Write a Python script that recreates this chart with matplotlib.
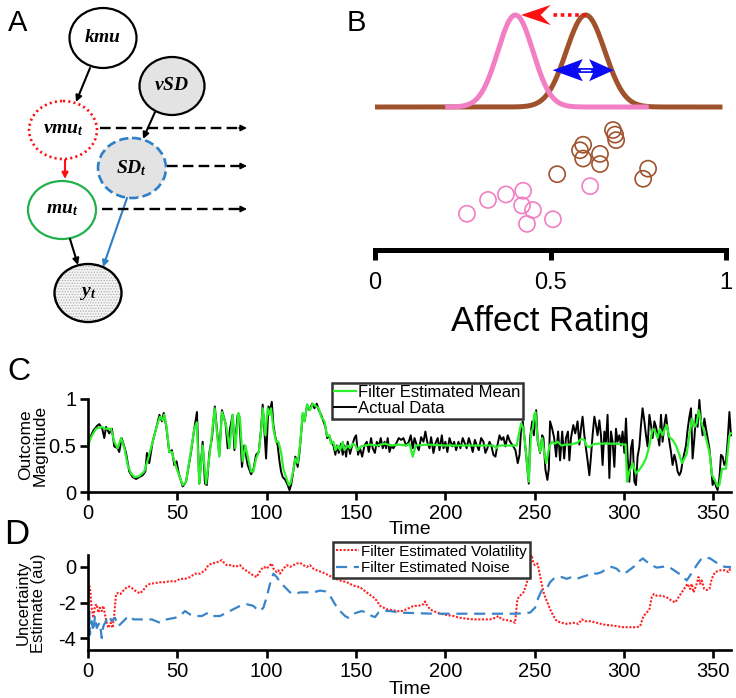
import numpy as np
import matplotlib
matplotlib.use('Agg')
import matplotlib.pyplot as plt
from matplotlib.patches import Ellipse, FancyArrowPatch, Polygon
from matplotlib.lines import Line2D

plt.rcParams['font.family'] = ['Liberation Sans', 'DejaVu Sans']
plt.rcParams['axes.unicode_minus'] = False
plt.rcParams['mathtext.fontset'] = 'custom'
plt.rcParams['mathtext.it'] = 'Liberation Serif:bold:italic'
plt.rcParams['mathtext.rm'] = 'Liberation Serif:bold'
plt.rcParams['hatch.linewidth'] = 0.6

# ---------------- data ----------------
# Panel B: schematic affect distributions and ratings
dist_means = [0.40, 0.60]          # pink (new), brown (old)
dist_sds = [0.05, 0.055]
dist_ranges = [(0.20, 0.78), (0.0, 0.99)]
pink_ratings = [0.262, 0.322, 0.373, 0.422, 0.419, 0.450, 0.433, 0.507, 0.613]
pink_rows = [-1.16, -1.01, -0.95, -0.91, -1.07, -1.12, -1.27, -1.22, -0.86]
brown_ratings = [0.678, 0.684, 0.687, 0.593, 0.584, 0.593, 0.641, 0.641, 0.519, 0.778, 0.764]
brown_rows = [-0.25, -0.30, -0.36, -0.41, -0.47, -0.56, -0.51, -0.62, -0.73, -0.67, -0.78]

# Panel C: outcome magnitude
actual_data = [(0,0.50),(1,0.58),(3,0.66),(5,0.71),(6.3,0.73),(8,0.68),(9.1,0.58),(10.1,0.70),(11.9,0.63),
 (13.4,0.68),(14.7,0.49),(16.6,0.47),(17.5,0.43),(18.8,0.58),(20.3,0.49),(21.3,0.42),(23.1,0.22),(25,0.16),
 (26.9,0.14),(28.7,0.16),(30.6,0.18),(32.1,0.22),(33,0.42),(34.3,0.31),(36.2,0.54),(38.1,0.68),(40,0.83),
 (41.4,0.76),(42.4,0.85),(43.7,0.72),(45.5,0.43),(47,0.45),(48.3,0.29),(49.6,0.33),(50.8,0.20),(53,0.06),
 (54.9,0.11),(57.7,0.43),(59.5,0.68),(61,0.86),(62.3,0.09),(64.2,0.54),(65.5,0.09),(66.5,0.075),(68,0.43),
 (69.4,0.58),(71,0.92),(73.5,0.40),(75,0.88),(77,0.74),(78.2,0.47),(79.5,0.68),(81,0.83),(82,0.45),
 (83.8,0.83),(84.7,0.81),(86.2,0.27),(87.5,0.50),(89.4,0.29),(91.3,0.19),(92.6,0.24),(94.1,0.40),(95.6,0.43),
 (96.9,0.68),(97.8,0.94),(98.8,0.65),(99.7,0.36),(101,0.92),(102,0.88),(102.9,0.97),(103.8,0.72),(104.9,0.59),
 (106.2,0.50),(107.2,0.33),(108.1,0.22),(109,0.16),(110.5,0.13),(111.8,0.075),(112.8,0.02),(113.7,0.075),
 (114.6,0.18),(116.1,0.38),(117.4,0.27),(118.4,0.42),(120.2,0.83),(121.2,0.76),(122.7,0.94),(124,0.88),
 (125.5,0.95),(126.8,0.90),(128.1,0.95),(129.2,0.88),(130.5,0.83),(131.8,0.76),(132.9,0.70),(133.9,0.58),
 (135.2,0.60),(136.1,0.54),(137.4,0.50),(138.5,0.40),(139.3,0.50),(140.4,0.42),(141.7,0.52),(142.6,0.40),
 (143.6,0.50),(144.5,0.38),(145.4,0.54),(146.7,0.41),(147.9,0.50),(149.2,0.58),(150.1,0.61),(151.2,0.40),
 (152.3,0.47),(153.5,0.38),(154.8,0.50),(156.1,0.54),(157.2,0.43),(158.5,0.58),(159.4,0.47),(160.6,0.42),
 (161.7,0.54),(162.8,0.49),(163.9,0.58),(165,0.47),(166,0.54),(166.9,0.47),(167.8,0.58),(168.8,0.43),
 (169.9,0.50),(171,0.47),(172.5,0.52),(174,0.58),(175.3,0.56),(176.6,0.58),(178.1,0.50),(179.6,0.54),
 (180.7,0.61),(181.8,0.47),(182.8,0.58),(184.1,0.50),(185.2,0.45),(186.5,0.59),(187.8,0.54),(188.9,0.65),
 (189.9,0.54),(191.2,0.47),(192.1,0.59),(193.4,0.42),(194.5,0.52),(195.8,0.58),(196.8,0.45),(198.1,0.61),
 (199,0.47),(200.1,0.54),(201.2,0.43),(202.4,0.58),(203.9,0.49),(205,0.54),(206.1,0.45),(207.4,0.54),
 (208.5,0.47),(209.8,0.58),(211,0.52),(212,0.47),(213.2,0.58),(214.5,0.50),(215.4,0.43),(216.6,0.56),
 (217.7,0.50),(218.8,0.45),(220.1,0.58),(221.4,0.54),(222.5,0.42),(223.6,0.47),(224.8,0.54),(225.9,0.49),
 (227,0.40),(228.1,0.38),(229.2,0.50),(230.4,0.61),(231.5,0.56),(232.6,0.59),(233.7,0.49),(235,0.61),
 (236.3,0.54),(237.8,0.50),(239.3,0.45),(240.6,0.31),(241.6,0.40),(242.5,0.68),(243.4,0.76),(244.6,0.54),
 (245.7,0.31),(246.8,0.09),(247.5,0.58),(248.7,0.76),(249.6,0.61),(250.9,0.88),(251.8,0.54),(253.1,0.42),
 (254.3,0.61),(255,0.58),(256.1,0.24),(257.2,0.13),(258,0.25),(258.7,0.76),(259.9,0.68),(261,0.58),
 (262.1,0.38),(263.2,0.65),(264.3,0.34),(265.5,0.65),(266.6,0.36),(267.6,0.58),(268.7,0.65),(269.5,0.34),
 (270.4,0.58),(271.7,0.72),(272.8,0.63),(274.1,0.76),(275.1,0.51),(276,0.68),(276.9,0.81),(277.9,0.61),
 (278.8,0.47),(279.7,0.34),(280.7,0.18),(281.6,0.38),(282.5,0.61),(283.5,0.81),(284.4,0.72),(285.3,0.61),
 (286.3,0.77),(287.2,0.61),(288.1,0.29),(289.1,0.65),(290,0.54),(290.9,0.83),(291.9,0.15),(292.8,0.65),
 (293.7,0.54),(294.7,0.27),(295.6,0.68),(296.5,0.54),(297.5,0.61),(298.4,0.50),(299.3,0.65),(300.3,0.42),
 (301.2,0.79),(302.1,0.38),(303.1,0.11),(304,0.47),(304.9,0.56),(305.9,0.11),(306.8,0.075),(307.7,0.38),
 (308.7,0.49),(309.6,0.72),(310.5,0.90),(311.5,0.76),(312.4,0.61),(313.3,0.49),(314.3,0.83),(315.2,0.72),
 (316.1,0.58),(317.1,0.76),(318,0.70),(318.9,0.61),(319.9,0.50),(320.8,0.83),(321.7,0.54),(322.7,0.72),
 (323.6,0.83),(324.5,0.68),(325.5,0.54),(326.4,0.43),(327.3,0.29),(328.3,0.40),(329.2,0.33),(330.1,0.22),
 (331.1,0.18),(332,0.22),(332.9,0.33),(333.9,0.42),(334.8,0.50),(335.7,0.67),(336.7,0.81),(337.6,0.90),
 (338.5,0.36),(339.5,0.58),(340.4,0.83),(341.3,0.70),(342.3,0.99),(343.2,0.76),(344.1,0.61),(345.1,0.79),
 (346,0.68),(346.9,0.58),(347.9,0.47),(348.8,0.29),(349.7,0.075),(350.7,0.13),(351.6,0.06),(352.5,0.02),
 (353.5,0.15),(354.4,0.40),(355.3,0.38),(356.3,0.29),(357.2,0.33),(358.1,0.54),(359.1,0.86),(360,0.61)]

filter_mean = [(0,0.50),(2,0.60),(4.5,0.68),(7.3,0.70),(10.1,0.68),(12.9,0.68),(14.7,0.54),(16.6,0.47),
 (18.5,0.58),(20.4,0.47),(22.2,0.29),(24.1,0.20),(26,0.16),(28.7,0.17),(31.5,0.22),(33.4,0.34),(36.2,0.54),
 (39,0.74),(40.3,0.81),(41.8,0.77),(42.7,0.83),(44,0.70),(45.5,0.43),(47,0.43),(48.3,0.33),(50.2,0.22),
 (53,0.075),(54.9,0.11),(57.7,0.45),(59.5,0.68),(60.9,0.75),(62.3,0.09),(64.2,0.50),(66.1,0.09),(68.3,0.43),
 (70.9,0.90),(73.5,0.38),(75,0.86),(77.3,0.72),(79.2,0.47),(81,0.83),(82.5,0.47),(84.2,0.85),(85.1,0.79),
 (86.6,0.33),(88.1,0.50),(90,0.33),(91.3,0.22),(92.6,0.22),(94.1,0.36),(95.6,0.43),(96.9,0.65),(97.8,0.90),
 (99.3,0.61),(100.6,0.90),(101.6,0.83),(102.5,0.90),(103.8,0.68),(105.3,0.54),(106.6,0.54),(108.1,0.43),
 (109.4,0.25),(110.9,0.16),(112.4,0.075),(113.3,0.09),(114.6,0.20),(116.1,0.36),(117.4,0.31),(118.9,0.54),
 (120.2,0.85),(121.2,0.76),(122.7,0.94),(124.3,0.88),(125.8,0.95),(127.7,0.92),(129.2,0.90),(130.5,0.81),
 (132.4,0.76),(133.9,0.60),(135.2,0.61),(136.1,0.52),(137.4,0.54),(138.5,0.45),(139.8,0.50),(141.1,0.45),
 (142.6,0.54),(143.6,0.45),(145.4,0.50),(146.7,0.47),(148.2,0.52),(149.7,0.50),(151,0.45),(152.9,0.49),
 (154.8,0.50),(158,0.51),(162,0.50),(166,0.52),(170,0.50),(174,0.51),(178.1,0.50),(180,0.52),(181.8,0.38),
 (183.5,0.50),(190,0.51),(200,0.50),(210,0.50),(220,0.50),(227,0.50),(228.5,0.47),(230,0.50),(240,0.50),
 (240.6,0.56),(242.5,0.74),(243.8,0.68),(245.3,0.41),(246.8,0.11),(248.1,0.65),(249,0.68),(249.8,0.83),
 (250.5,0.86),(251.8,0.56),(253.1,0.43),(254.3,0.58),(255.4,0.43),(256.5,0.31),(258.4,0.50),(259.9,0.54),
 (261.2,0.52),(263,0.54),(265,0.50),(267.7,0.51),(270,0.51),(272,0.52),(274,0.53),(276,0.57),(277.9,0.56),
 (279,0.50),(280.7,0.48),(282.5,0.51),(285,0.52),(290,0.52),(295,0.52),(300,0.51),(301,0.51),(301.8,0.11),
 (303.1,0.22),(304.9,0.31),(306.8,0.20),(308.7,0.24),(310.5,0.29),(312.4,0.36),(314.3,0.50),(316.1,0.68),
 (317.6,0.65),(318.9,0.58),(320.2,0.68),(321.7,0.61),(322.9,0.68),(324,0.72),(325.5,0.59),(327.3,0.56),
 (329.2,0.50),(331.1,0.40),(332.6,0.31),(333.9,0.36),(335.2,0.41),(336.7,0.61),(338.2,0.79),(339.5,0.70),
 (340.8,0.74),(341.9,0.88),(343.2,0.76),(344.5,0.68),(346,0.58),(347.9,0.43),(349.4,0.18),(350.9,0.13),
 (352.5,0.06),(353.5,0.075),(355,0.25),(357.2,0.25),(359.1,0.61),(360,0.63)]

# Panel D: uncertainty estimates
volatility = [(0.5,-1.05),(1.1,-1.15),(2.0,-2.29),(3.0,-2.86),(3.9,-2.19),(4.9,-2.1),(5.8,-2.57),(6.7,-2.29),
 (7.7,-2.48),(8.6,-2.19),(9.5,-2.67),(10.5,-3.14),(11.4,-3.43),(12.7,-3.14),(13.8,-3.43),(14.7,-2.67),
 (15.7,-1.52),(17,-1.46),(18.3,-1.52),(19.8,-1.33),(21.7,-1.14),(23.1,-1.1),(24.5,-1.18),(26.3,-1.33),
 (29.1,-1.49),(31,-1.3),(32.9,-1.05),(34.7,-0.95),(37.5,-0.91),(40.3,-0.86),(43.1,-0.86),(45.9,-0.8),
 (48.7,-0.82),(51.5,-0.67),(54.3,-0.67),(57.1,-0.57),(59.9,-0.38),(62.7,-0.38),(65.5,-0.19),(67.4,0.1),
 (69.3,0.19),(71.1,0.23),(73,0.29),(74.9,0.38),(76.2,0.23),(77.7,0.1),(80.5,0.1),(82.3,0),(85.1,0.1),
 (87,-0.1),(89.8,-0.29),(92.6,-0.48),(94.5,-0.57),(95.4,-0.38),(97.3,-0.1),(98.6,0),(100,-0.1),(101.9,0.1),
 (102.9,0.19),(103.8,-0.1),(105.6,-0.29),(106.6,-0.19),(107.5,-0.38),(109.4,-0.1),(111.3,0.1),(113.1,0),
 (115,0.1),(116.9,0.19),(118.7,0.23),(120.6,0.1),(122.5,0),(124.2,0.1),(126.2,-0.1),(128.1,-0.19),
 (130.9,-0.29),(133.7,-0.42),(137.4,-0.61),(141.1,-0.76),(144.9,-0.86),(148.6,-1.05),(152.3,-1.14),
 (156,-1.43),(159.8,-1.71),(161.7,-1.9),(163.5,-2.19),(167.3,-2.38),(171,-2.44),(174.7,-2.51),(178.4,-2.38),
 (182.2,-2.19),(185,-2.19),(187.8,-2.1),(188.7,-1.94),(189.6,-2.13),(191.5,-2.38),(193.4,-2.48),
 (197.1,-2.63),(200.8,-2.7),(204.6,-2.76),(208.3,-2.86),(212,-2.91),(215.8,-2.95),(221.4,-2.95),
 (225.1,-2.95),(227.9,-2.86),(229.8,-2.76),(231.6,-2.95),(234.4,-2.99),(237.2,-3.05),(239.1,-3.14),
 (240.4,-1.81),(241.9,-1.62),(243.8,-1.43),(245.6,-0.95),(246.6,-0.38),(247.5,0.48),(248.4,0.67),
 (249.4,0.19),(250.3,0.1),(251.6,0.19),(252.7,-0.29),(254,-0.95),(255.3,-1.52),(256.8,-1.9),(258.7,-2.38),
 (260.6,-2.76),(262.4,-3.05),(265.2,-3.14),(268,-3.2),(271.8,-3.14),(274.6,-3.2),(276.4,-2.95),
 (278.3,-3.05),(281.1,-3.05),(284.8,-3.14),(288.6,-3.24),(292.3,-3.28),(296,-3.33),(299.8,-3.39),
 (303.5,-3.39),(307.2,-3.39),(309.1,-3.33),(311,-2.76),(312.8,-2.57),(314.3,-2.38),(315.6,-1.71),
 (316.9,-1.52),(318.4,-1.62),(321.2,-1.62),(324,-1.71),(326.8,-1.9),(328.7,-2.0),(330.6,-1.71),
 (332.4,-1.43),(334.3,-1.14),(335.6,-0.95),(337.1,-1.24),(338,-0.95),(339,-1.43),(340.5,-1.05),
 (341.8,-0.57),(342.7,-0.95),(343.6,-0.76),(345,-1.24),(346.4,-1.3),(347.9,-1.24),(349.2,-0.67),
 (351.1,-0.29),(353.9,-0.19),(356.7,-0.19),(358.5,-0.29),(359.5,-0.1),(360,-0.2)]

noise = [(0.2,-4.57),(0.7,-2.48),(1.1,-3.81),(2.05,-3.05),(3.0,-3.62),(3.9,-2.76),(4.9,-3.43),(5.8,-3.24),
 (6.7,-3.14),(7.7,-4.0),(8.6,-3.33),(10.5,-2.95),(11.9,-2.76),(13.3,-3.05),(15.1,-2.86),(17,-3.33),
 (18.9,-3.14),(21.7,-2.86),(23.5,-2.76),(25.4,-2.95),(28.2,-2.95),(31.9,-2.95),(35.7,-2.95),(40.3,-3.14),
 (44,-2.95),(48.7,-2.86),(51.5,-2.76),(54.3,-2.48),(57.1,-2.67),(59.9,-2.76),(63.7,-2.76),(67.4,-2.57),
 (70.2,-2.76),(73.9,-2.76),(77.7,-2.57),(81.4,-2.38),(85.1,-2.19),(88.9,-2.1),(92.6,-2.19),(94.5,-2.38),
 (96.3,-2.48),(98.2,-2.29),(100,-1.71),(101.9,-0.95),(103.8,-0.38),(105.7,-0.57),(107.5,-0.86),
 (109.4,-1.05),(111.3,-1.24),(113.1,-1.43),(115.9,-1.52),(118.7,-1.43),(122.5,-1.43),(126.2,-1.43),
 (129.9,-1.33),(132.7,-1.37),(135.5,-1.62),(138.3,-2.1),(141.1,-2.48),(143.9,-2.76),(145.8,-2.86),
 (147.7,-2.67),(150.5,-2.57),(153.3,-2.48),(156.1,-2.57),(158.9,-2.76),(160.7,-2.82),(162.6,-2.57),
 (165.4,-2.48),(169.1,-2.48),(172.9,-2.54),(174.7,-2.57),(184,-2.6),(193.4,-2.63),(202.7,-2.63),
 (212,-2.63),(221.4,-2.63),(230.7,-2.63),(240,-2.63),(247.5,-2.57),(250.3,-2.29),(252.2,-1.71),
 (254,-1.33),(255.9,-1.14),(257.2,-1.14),(258.7,-0.86),(260.6,-0.67),(262.4,-0.57),(265.2,-0.57),
 (268,-0.67),(270.8,-0.57),(273.6,-0.67),(276.4,-0.57),(279.2,-0.48),(282,-0.34),(284.8,-0.38),
 (287.6,-0.29),(290.4,-0.1),(293.2,0),(296,-0.1),(298.8,-0.38),(301.6,-0.29),(305.4,0),(308.2,0.29),
 (310.6,0.48),(312.8,0.29),(315.6,0.1),(318.4,-0.04),(321.2,0),(324,0.04),(326.8,-0.1),(329.6,-0.29),
 (332.4,-0.48),(335.2,-0.76),(337.1,-0.48),(339,-0.19),(340.8,0.1),(343.6,0.48),(346,0.53),(348.3,0.48),
 (351.1,0.29),(353.9,0.1),(356.7,0),(359.5,0),(360,-0.05)]

time_ticks = [0, 50, 100, 150, 200, 250, 300, 350]
c_yticks = [0, 0.5, 1]
c_yticklabels = ['0', '0.5', '1']
d_yticks = [-4, -2, 0]
b_ticks = [0, 0.5, 1]
b_ticklabels = ['0', '0.5', '1']

# ---------------- figure ----------------
W, H = 736, 698
fig = plt.figure(figsize=(W / 100, H / 100), dpi=100)
ov = fig.add_axes([0, 0, 1, 1])
ov.set_xlim(0, W)
ov.set_ylim(H, 0)
ov.axis('off')

def fx(px):
    return px / W

def fy(py):
    return 1 - py / H

# ---------------- Panel A (graphical model) ----------------
nodes = [
    ('$kmu$', 103, 38, 67, 60, 'black', '-', 'white'),
    ('$vSD$', 172, 86, 65, 58, 'black', '-', '#E3E3E3'),
    ('$vmu_t$', 63, 130, 68, 58, '#FF1010', (0, (0.8, 1.2)), 'white'),
    ('$SD_t$', 132, 168, 68, 60, '#2E7FC8', (0, (3.5, 1.6)), '#E3E3E3'),
    ('$mu_t$', 62, 210, 68, 58, '#22B14C', '-', 'white'),
    ('$y_t$', 88, 293, 67, 58, 'black', '-', 'dots'),
]
for lab, cx, cy, w, h, ec, ls, fc in nodes:
    if fc == 'dots':
        ov.add_patch(Ellipse((cx, cy), w, h, facecolor='#F4F4F4', edgecolor='#B0B0B0',
                             hatch='......', lw=0, zorder=2))
        ov.add_patch(Ellipse((cx, cy), w, h, facecolor='none', edgecolor=ec, lw=1.7, zorder=3))
    else:
        ov.add_patch(Ellipse((cx, cy), w, h, facecolor=fc, edgecolor=ec, lw=1.9 if ls != '-' else 1.6,
                             linestyle=ls, zorder=2))
    ov.text(cx, cy, lab, ha='center', va='center', fontsize=14, zorder=4)

solid_arrows = [
    ((90, 68), (76, 102), 'black'),
    ((155, 112), (143, 139), 'black'),
    ((65, 160), (65, 179), '#FF1010'),
    ((70, 239), (78, 265), 'black'),
    ((127, 198), (103, 267), '#2E7FC8'),
]
for p0, p1, col in solid_arrows:
    ov.add_patch(FancyArrowPatch(p0, p1, arrowstyle='-|>', mutation_scale=9, color=col,
                                 lw=1.5, shrinkA=0, shrinkB=0, zorder=3))

dashed_arrows = [((100, 128), (247, 128)), ((167, 166), (247, 166)), ((102, 209), (247, 209))]
for p0, p1 in dashed_arrows:
    ov.plot([p0[0], p1[0] - 6], [p0[1], p1[1]], color='black', lw=1.7, ls=(0, (4.5, 2.2)), zorder=3)
    ov.add_patch(FancyArrowPatch((p1[0] - 8, p1[1]), p1, arrowstyle='-|>', mutation_scale=9,
                                 color='black', lw=1.2, shrinkA=0, shrinkB=0, zorder=3))

# panel letters
ov.text(18, 23, 'A', fontsize=21, ha='center', va='center')
ov.text(356, 23, 'B', fontsize=21, ha='center', va='center')
ov.text(19, 372, 'C', fontsize=23, ha='center', va='center')
ov.text(17, 535, 'D', fontsize=25, ha='center', va='center')

# ---------------- Panel B ----------------
axB = fig.add_axes([fx(375), fy(250), fx(351), 250 / H])
axB.set_facecolor('none')
axB.set_xlim(0, 1)
axB.set_ylim(-1.554, 1.163)
for s in ['top', 'left', 'right']:
    axB.spines[s].set_visible(False)
axB.spines['bottom'].set_linewidth(3.6)
axB.set_yticks([])
axB.set_xticks(b_ticks)
axB.set_xticklabels(b_ticklabels)
axB.tick_params(axis='x', direction='out', length=7.5, width=3.6, labelsize=17, pad=8)

pink = '#F27EC3'
brown = '#A0522D'
xs0 = np.linspace(dist_ranges[1][0], dist_ranges[1][1], 500)
axB.plot(xs0, np.exp(-0.5 * ((xs0 - dist_means[1]) / dist_sds[1]) ** 2), color=brown, lw=3.6,
         solid_capstyle='butt', zorder=2)
xs1 = np.linspace(dist_ranges[0][0], dist_ranges[0][1], 500)
axB.plot(xs1, np.exp(-0.5 * ((xs1 - dist_means[0]) / dist_sds[0]) ** 2), color=pink, lw=3.6,
         solid_capstyle='butt', zorder=3)

axB.scatter(brown_ratings, brown_rows, s=135, facecolors='none', edgecolors=brown, linewidths=1.2, zorder=3)
axB.scatter(pink_ratings, pink_rows, s=135, facecolors='none', edgecolors=pink, linewidths=1.2, zorder=3)

# red shift arrow (mean change)
axB.plot([dist_means[1], 0.50], [1.0, 1.0], color='#FF1010', lw=2.6, ls=(0, (1, 1)), zorder=4)
axB.add_patch(Polygon([(0.416, 1.0), (0.501, 1.11), (0.472, 1.0), (0.501, 0.89)], closed=True,
                      facecolor='#FF1010', edgecolor='none', zorder=5))
# blue width arrow (uncertainty)
axB.add_patch(Polygon([(0.506, 0.40), (0.592, 0.52), (0.575, 0.40), (0.592, 0.28)], closed=True,
                      facecolor='#0A0AF5', edgecolor='none', zorder=5))
axB.add_patch(Polygon([(0.680, 0.40), (0.610, 0.52), (0.625, 0.40), (0.610, 0.28)], closed=True,
                      facecolor='#0A0AF5', edgecolor='none', zorder=5))
axB.plot([0.575, 0.625], [0.40, 0.40], color='#0A0AF5', lw=3.5, zorder=5)
axB.plot([0.588, 0.612], [0.40, 0.40], color='white', lw=1, zorder=6)

fig.text(fx(550), fy(322), 'Affect Rating', fontsize=25, ha='center', va='center')

# ---------------- Panel C ----------------
def style_axis(ax):
    ax.set_facecolor('none')
    for s in ['top', 'right']:
        ax.spines[s].set_visible(False)
    for s in ['left', 'bottom']:
        ax.spines[s].set_linewidth(1.9)
    ax.tick_params(direction='out', length=5.5, width=1.9, labelsize=14.5, pad=3)

axC = fig.add_axes([fx(88), fy(492), fx(643), 93 / H])
style_axis(axC)
at, av = zip(*actual_data)
mt, mv = zip(*filter_mean)
l_act, = axC.plot(at, av, color='black', lw=1.4, clip_on=False)
l_mean, = axC.plot(mt, mv, color='#2BF02B', lw=1.6, clip_on=False)
axC.set_xlim(0, 360)
axC.set_ylim(0, 1)
axC.set_xticks(time_ticks)
axC.set_yticks(c_yticks)
axC.set_yticklabels(c_yticklabels)
legC = axC.legend([l_mean, l_act], ['Filter Estimated Mean', 'Actual Data'], loc='upper left',
                  bbox_to_anchor=(0.379, 1.175), fontsize=12, fancybox=False, edgecolor='#333333',
                  framealpha=1, handlelength=1.3, handletextpad=0.15, borderpad=0.15,
                  labelspacing=0.05, borderaxespad=0)
legC.get_frame().set_linewidth(1.8)
fig.text(fx(33), fy(445), 'Outcome\nMagnitude', rotation=90, fontsize=12.5, ha='center', va='center',
         linespacing=1.0)
fig.text(fx(410), fy(530), 'Time', fontsize=14, ha='center', va='center')

# ---------------- Panel D ----------------
axD = fig.add_axes([fx(88), fy(650), fx(643), 95 / H])
style_axis(axD)
vt, vv = zip(*volatility)
nt, nv = zip(*noise)
l_vol, = axD.plot(vt, vv, color='#FF2020', lw=1.5, ls=(0, (1, 0.8)))
l_noise, = axD.plot(nt, nv, color='#3A85C8', lw=1.6, ls=(0, (5, 3)))
axD.set_xlim(0, 360)
axD.set_ylim(-4.67, 0.67)
axD.set_xticks(time_ticks)
axD.set_yticks(d_yticks)
legD = axD.legend([l_vol, l_noise], ['Filter Estimated Volatility', 'Filter Estimated Noise'],
                  loc='upper left', bbox_to_anchor=(0.381, 1.14), fontsize=11, fancybox=False,
                  edgecolor='#333333', framealpha=1, handlelength=1.5, handletextpad=0.15,
                  borderpad=0.2, labelspacing=0.15, borderaxespad=0)
legD.get_frame().set_linewidth(1.8)
fig.text(fx(31), fy(603), 'Uncertainty\nEstimate (au)', rotation=90, fontsize=12, ha='center',
         va='center', linespacing=1.0)
fig.text(fx(410), fy(689), 'Time', fontsize=14, ha='center', va='center')

fig.savefig('out.png', dpi=100)
